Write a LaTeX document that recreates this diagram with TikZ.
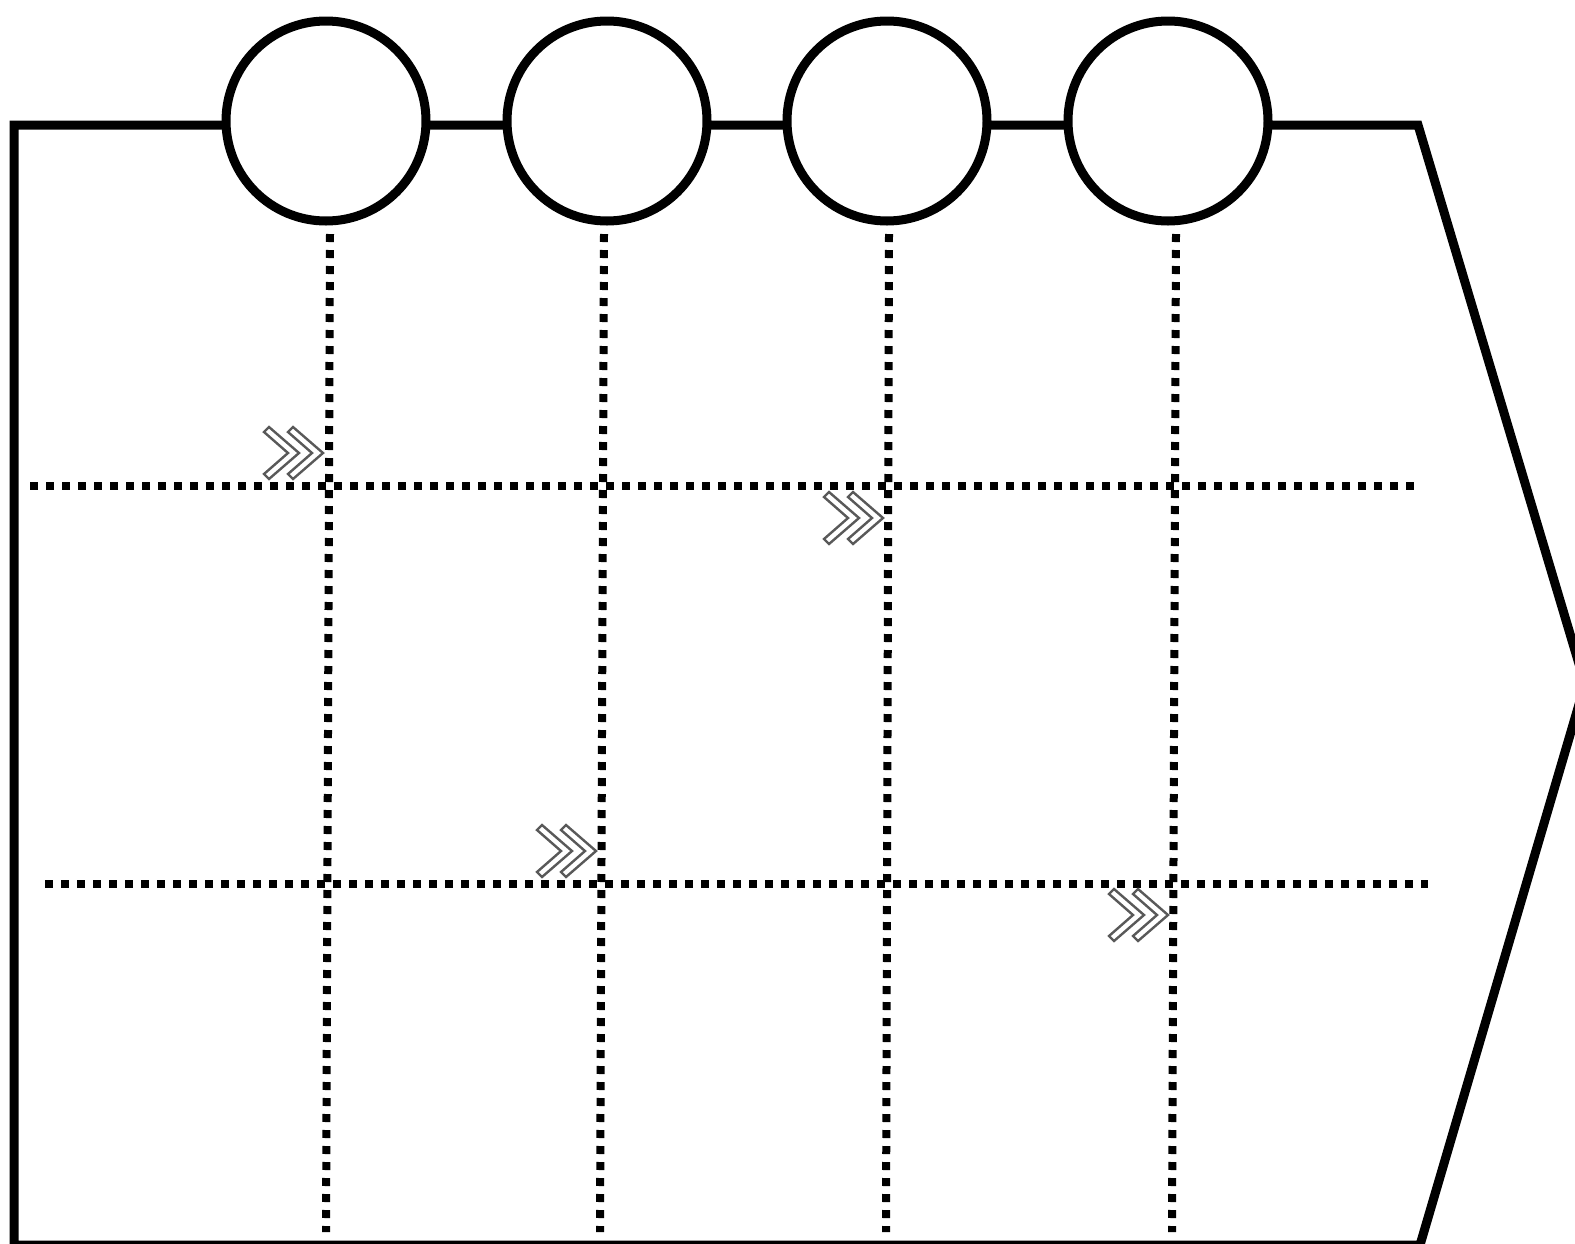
\documentclass[tikz,border=0pt]{standalone}
\usetikzlibrary{calc}
\tikzset{
  outline/.style={line width=4.5pt, line join=miter},
  stop/.style={draw, circle, line width=4.5pt, fill=white, minimum size=100pt, inner sep=0pt},
  gridline/.style={line width=4pt, dash pattern=on 4pt off 4pt},
  arrowmark/.style={draw=black!65, line width=1.2pt, fill=white, line join=miter}
}
\begin{document}
\begin{tikzpicture}[x=0.5pt,y=-0.5pt]
\useasboundingbox (0,0) rectangle (1575,1243);

% outer board
\coordinate (tl) at (14,125);
\coordinate (tr) at (1418,125);
\coordinate (tip) at (1585,684);
\coordinate (br) at (1420,1245);
\coordinate (bl) at (14,1245);
\draw[outline] (bl) -- (tl) -- (tr) -- (tip) -- (br) -- cycle;

% stops on the top edge
\node[stop] (c1) at (326,121) {};
\node[stop] (c2) at (607,121) {};
\node[stop] (c3) at (887,121) {};
\node[stop] (c4) at (1168,121) {};

% dotted grid
\foreach \i/\xt/\xb in {1/330/326, 2/604/600, 3/889/886, 4/1176/1172} {
  \coordinate (t\i) at (\xt,234);
  \coordinate (b\i) at (\xb,1232);
  \draw[gridline] (t\i) -- (b\i);
}

\coordinate (h1l) at (30,486);
\coordinate (h1r) at (1414,486);
\coordinate (h2l) at (45,884);
\coordinate (h2r) at (1428,884);
\draw[gridline] (h1l) -- (h1r);
\draw[gridline] (h2l) -- (h2r);

% double chevrons
\foreach \x/\y in {264/427, 824/492, 537/825, 1109/889}
  \foreach \d in {0,24}
    \draw[arrowmark, shift={(\x+\d,\y)}]
      (0,5) -- (5,0) -- (35,26) -- (5,52) -- (0,47) -- (24,26) -- cycle;
\end{tikzpicture}
\end{document}
